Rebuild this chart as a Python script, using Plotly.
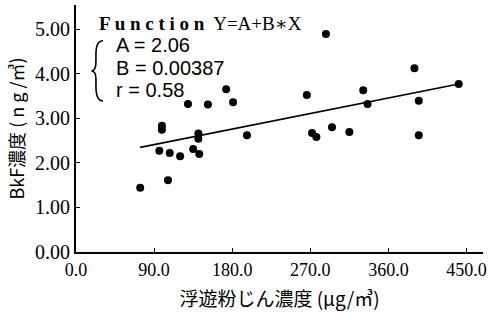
import plotly.graph_objects as go

# data
dust = [74, 106, 96, 108, 120, 135, 142, 99, 99, 141, 141, 129, 152, 173, 181, 197,
        266, 272, 277, 288, 295, 315, 331, 336, 390, 395, 395, 441]
bkf = [1.44, 1.61, 2.27, 2.22, 2.15, 2.31, 2.20, 2.83, 2.74, 2.66, 2.54, 3.32, 3.31, 3.65, 3.36, 2.62,
       3.52, 2.67, 2.58, 4.89, 2.80, 2.69, 3.63, 3.32, 4.12, 3.39, 2.62, 3.77]
coef_a = 2.06
coef_b = 0.00387
coef_r = 0.58
x_ticks = [0, 90, 180, 270, 360, 450]
x_tick_labels = ["0.0", "90.0", "180.0", "270.0", "360.0", "450.0"]
y_ticks = [0, 1, 2, 3, 4, 5]
y_tick_labels = ["0.00", "1.00", "2.00", "3.00", "4.00", "5.00"]

line_x = [min(dust), max(dust)]
line_y = [coef_a + coef_b * v for v in line_x]

fig = go.Figure()
fig.add_trace(go.Scatter(x=dust, y=bkf, mode="markers",
                         marker=dict(color="black", size=8), showlegend=False))
fig.add_trace(go.Scatter(x=line_x, y=line_y, mode="lines",
                         line=dict(color="black", width=1.6), showlegend=False))

serif = "Liberation Serif, DejaVu Serif, serif"
cjk = "Noto Sans CJK JP"
fig.update_layout(
    width=495, height=324,
    margin=dict(l=76, r=12, t=5, b=72),
    plot_bgcolor="white", paper_bgcolor="white",
    font=dict(family=serif, color="black", size=18),
    xaxis=dict(range=[0, 469], tickvals=x_ticks, ticktext=x_tick_labels,
               showgrid=False, zeroline=False, showline=True, linecolor="black", linewidth=2,
               ticks="inside", ticklen=4, tickcolor="black",
               tickfont=dict(family=serif, size=18),
               title=dict(text="浮遊粉じん濃度 (μg/㎥)",
                          font=dict(family=cjk, size=19), standoff=14)),
    yaxis=dict(range=[0, 5.54], tickvals=y_ticks, ticktext=y_tick_labels,
               showgrid=False, zeroline=False, showline=True, linecolor="black", linewidth=2,
               ticks="inside", ticklen=4, tickcolor="black",
               tickfont=dict(family=serif, size=20),
               title=dict(text="BkF濃度 ( n g /㎥)",
                          font=dict(family=cjk, size=18), standoff=6)),
)

sans = "Liberation Sans, Arial, sans-serif"
fig.add_annotation(xref="paper", yref="paper", x=0.052, y=0.927, xanchor="left", yanchor="middle",
                   text="<b>F u n c t i o n</b>  Y=A+B∗X", showarrow=False,
                   font=dict(family=serif, size=19))
fig.add_annotation(xref="paper", yref="paper", x=0.094, y=0.838, xanchor="left", yanchor="middle",
                   text=f"A = {coef_a:.2f}", showarrow=False, font=dict(family=sans, size=20))
fig.add_annotation(xref="paper", yref="paper", x=0.094, y=0.745, xanchor="left", yanchor="middle",
                   text=f"B = {coef_b:.5f}", showarrow=False, font=dict(family=sans, size=20))
fig.add_annotation(xref="paper", yref="paper", x=0.094, y=0.656, xanchor="left", yanchor="middle",
                   text=f"r = {coef_r:.2f}", showarrow=False, font=dict(family=sans, size=20))
# curly brace
fig.add_shape(type="path", xref="paper", yref="paper",
              path="M 0.066 0.855 Q 0.049 0.855 0.049 0.80 L 0.049 0.77 Q 0.049 0.733 0.038 0.733 "
                   "Q 0.049 0.733 0.049 0.70 L 0.049 0.67 Q 0.049 0.612 0.066 0.612",
              line=dict(color="black", width=1.6))

fig.write_html("out.html", config={"displayModeBar": False},
               post_script="document.body.style.margin='0';")
